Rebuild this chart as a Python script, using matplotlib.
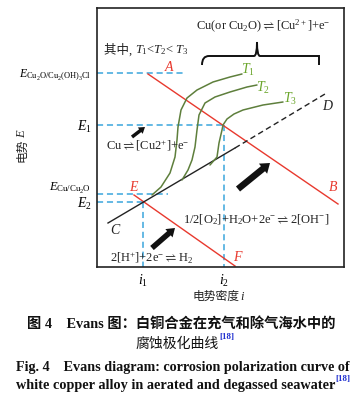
import matplotlib
matplotlib.use("Agg")
import matplotlib.pyplot as plt
from matplotlib.path import Path
from matplotlib.patches import PathPatch, FancyArrow

plt.rcParams['mathtext.fontset'] = 'custom'
plt.rcParams['mathtext.rm'] = 'Liberation Serif'
plt.rcParams['mathtext.it'] = 'Liberation Serif:italic'
plt.rcParams['mathtext.bf'] = 'Liberation Serif:bold'
plt.rcParams['mathtext.fallback'] = 'stix'
plt.rcParams['font.family'] = ['Liberation Serif', 'Noto Sans CJK SC', 'DejaVu Sans']

# ---- data (schematic units) ----
x_lim = (0, 247)
y_lim = (0, 259)

E_cu2o_cl = 194      # E Cu2O/Cu2(OH)3Cl
E1 = 142
E_cu_cu2o = 73
E2 = 65
i1 = 46
i2 = 127

line_AB_x = [51, 241]
line_AB_y = [193, 63]
line_EF_x = [37, 138]
line_EF_y = [72, 1]
line_C_x = [11, 138]
line_C_y = [44, 119]
line_D_x = [138, 228]
line_D_y = [119, 173]

T1_x = [55, 64, 73, 78, 80, 81, 84, 90, 100, 116, 133, 145]
T1_y = [72, 80, 94, 110, 127, 140, 157, 169, 177, 185, 190, 193]
T2_x = [85, 91, 95, 98, 100, 102, 108, 118, 133, 150, 160]
T2_y = [87, 97, 107, 120, 137, 152, 164, 170, 175, 180, 182]
T3_x = [113, 120, 122, 125, 126, 130, 137, 146, 166, 186]
T3_y = [102, 110, 124, 137, 142, 148, 153, 157, 162, 165]

ytick_pos = [194, 142, 81, 65]
ytick_lab = [r'$E_{\mathrm{Cu_2O/Cu_2(OH)_3Cl}}$', r'$E_1$', r'$E_{\mathrm{Cu/Cu_2O}}$', r'$E_2$']
ytick_size = [8.6, 10, 9, 10]
xtick_pos = [i1, i2]
xtick_lab = [r'$i_1$', r'$i_2$']

RED = '#e8392e'
BLUE = '#3aa6dc'
GREEN = '#5e7f3c'
LGREEN = '#6aa52a'
INK = '#222222'

fig = plt.figure(figsize=(3.62, 4.07), dpi=100)
ax = fig.add_axes([97/362, 1-267/407, 247/362, 259/407])
ax.set_xlim(*x_lim)
ax.set_ylim(*y_lim)
for s in ax.spines.values():
    s.set_linewidth(1.2)
    s.set_color(INK)

# dashed guide lines
dkw = dict(color=BLUE, lw=1.1, ls=(0, (4, 2.5)))
ax.plot([0, 88], [E_cu2o_cl, E_cu2o_cl], **dkw)
ax.plot([0, i2], [E1, E1], **dkw)
ax.plot([i2, i2], [E1, 0], **dkw)
ax.plot([0, 71], [E_cu_cu2o, E_cu_cu2o], **dkw)
ax.plot([0, i1], [E2, E2], **dkw)
ax.plot([i1, i1], [E2, 0], **dkw)

# red lines
ax.plot(line_AB_x, line_AB_y, color=RED, lw=1.0)
ax.plot(line_EF_x, line_EF_y, color=RED, lw=1.0)
# black line
ax.plot(line_C_x, line_C_y, color=INK, lw=1.0)
ax.plot(line_D_x, line_D_y, color=INK, lw=1.0, ls=(0, (4, 2.5)))

# green curves
for xs, ys in [(T1_x, T1_y), (T2_x, T2_y), (T3_x, T3_y)]:
    ax.plot(xs, ys, color=GREEN, lw=1.1, solid_capstyle='round')

# brace
bx0, bx1, bxc, byb, bym, byt = 105, 222, 160, 202, 211, 225
verts = [(bx0, byb), (bx0, bym), (bx0 + 7, bym), (bx0 + 12, bym),
         (bxc - 10, bym), (bxc - 10, bym), (bxc - 3, bym),
         (bxc, bym), (bxc, byt),
         (bxc, bym), (bxc + 3, bym),
         (bxc + 10, bym), (bxc + 10, bym), (bx1 - 12, bym),
         (bx1 - 7, bym), (bx1, bym), (bx1, byb)]
codes = [Path.MOVETO, Path.CURVE3, Path.CURVE3, Path.LINETO,
         Path.LINETO, Path.LINETO, Path.LINETO,
         Path.CURVE3, Path.CURVE3,
         Path.CURVE3, Path.CURVE3,
         Path.LINETO, Path.LINETO, Path.LINETO,
         Path.CURVE3, Path.CURVE3, Path.LINETO]
ax.add_patch(PathPatch(Path(verts, codes), fill=False, lw=1.4, color='#111111'))

# arrows
for (x0, y0, x1, y1, w, hw, hl) in [(35, 130, 48, 140, 3.5, 8, 6),
                                      (141, 78, 173, 104, 6.5, 13, 9),
                                      (55, 19, 78, 39, 5.5, 11, 8)]:
    ax.add_patch(FancyArrow(x0, y0, x1 - x0, y1 - y0, width=w, head_width=hw,
                            head_length=hl, length_includes_head=True,
                            color='#111111', lw=0))

# labels
fs = 9
ta = ax.text(7, 217, '其中, ', fontsize=fs, va='center', ha='left', color=INK)
ax.annotate('$T_1$<$T_2$< $T_3$', xy=(1, 0.5), xycoords=ta, fontsize=fs, va='center', ha='left', color=INK)
ax.text(166, 241, r'Cu(or Cu$_2$O)$\rightleftharpoons$[Cu$^{2+}$]+e$^{-}$', fontsize=fs, ha='center', va='center', color=INK)
lfs = 10
ax.text(73, 200, '$A$', color=RED, fontsize=lfs, ha='center', va='center')
ax.text(151, 197, '$T_1$', color=LGREEN, fontsize=lfs, ha='center', va='center')
ax.text(166, 179, '$T_2$', color=LGREEN, fontsize=lfs, ha='center', va='center')
ax.text(193, 168, '$T_3$', color=LGREEN, fontsize=lfs, ha='center', va='center')
ax.text(231, 161, '$D$', color=INK, fontsize=lfs, ha='center', va='center')
ax.text(236, 80, '$B$', color=RED, fontsize=lfs, ha='center', va='center')
ax.text(37, 80, '$E$', color=RED, fontsize=lfs, ha='center', va='center')
ax.text(141, 10, '$F$', color=RED, fontsize=lfs, ha='center', va='center')
ax.text(19, 37, '$C$', color=INK, fontsize=lfs, ha='center', va='center')
ax.text(9, 121, r'Cu$\rightleftharpoons$[Cu2$^{+}$]+e$^{-}$', fontsize=fs, ha='left', va='center', color=INK)
ax.text(86, 47, r'1/2[O$_2$]+H$_2$O+2e$^{-}$$\rightleftharpoons$2[OH$^{-}$]', fontsize=fs, ha='left', va='center', color=INK)
ax.text(13, 9, r'2[H$^{+}$]+2e$^{-}$$\rightleftharpoons$H$_2$', fontsize=fs, ha='left', va='center', color=INK)

ax.set_xticks(xtick_pos)
ax.set_xticklabels(xtick_lab, fontsize=10)
ax.set_yticks(ytick_pos)
ax.set_yticklabels(ytick_lab)
for lab, sz in zip(ax.get_yticklabels(), ytick_size):
    lab.set_fontsize(sz)
ax.tick_params(length=0, pad=4)

# axis titles (CJK + italic symbol as separate pieces)
tx = fig.text(240/362, 1-297/407, '电势密度', fontsize=8.5, ha='right', va='center', color=INK)
ax.annotate('$i$', xy=(1, 0.5), xycoords=tx, fontsize=9, ha='left', va='center', color=INK)
ty = fig.text(22/362, 1-138/407, '电势', rotation=90, fontsize=8.5, ha='center', va='top', color=INK)
ax.annotate('$E$', xy=(0.5, 1), xycoords=ty, rotation=90, fontsize=9, ha='center', va='bottom', color=INK)

# caption
t1 = fig.text(0.5, 1-325/407, '图 4    Evans 图：白铜合金在充气和除气海水中的', fontsize=10.3,
              fontweight='bold', ha='center', va='center', color='#111111')
t2 = fig.text(0.49, 1-344/407, '腐蚀极化曲线', fontsize=10, ha='center', va='center', color='#111111')
ax.annotate('[18]', xy=(1, 0.75), xycoords=t2, fontsize=6.5, color='#2030d0', fontweight='bold', va='bottom', ha='left')
t3 = fig.text(0.505, 1-367/407, 'Fig. 4    Evans diagram: corrosion polarization curve of', fontsize=10.2,
              fontweight='bold', ha='center', va='center', color='#111111')
t4 = fig.text(0.485, 1-386/407, 'white copper alloy in aerated and degassed seawater', fontsize=10.3,
              fontweight='bold', ha='center', va='center', color='#111111')
ax.annotate('[18]', xy=(1, 0.7), xycoords=t4, fontsize=6.5, color='#2030d0', fontweight='bold', va='bottom', ha='left')

fig.savefig('out.png', dpi=100)
